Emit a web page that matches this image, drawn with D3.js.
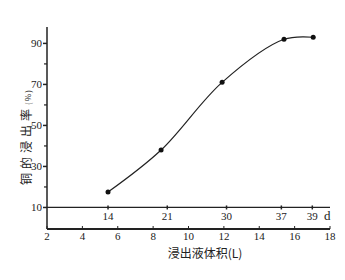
<!DOCTYPE html>
<html>
<head>
<meta charset="utf-8">
<script src="https://cdn.jsdelivr.net/npm/d3@7"></script>
<style>
  body { margin: 0; background: #fff; }
  svg text { fill: #222; }
  .num { font-family: "Liberation Serif", "DejaVu Serif", serif; font-size: 11px; }
  .cjk { font-family: "Noto Sans CJK SC", sans-serif; font-size: 12px; }
</style>
</head>
<body>
<svg id="chart" width="345" height="280"></svg>
<script>
// leaching volume (L) and copper leaching rate (%)
var volume = [5.45, 8.45, 11.9, 15.4, 17.05];
var rate = [17.5, 38, 71, 92, 93];

// day marks on the 10% line: day and cumulative volume at that day
var days = [14, 21, 30, 37, 39];
var dayVolume = [5.45, 8.8, 12.15, 15.25, 17.0];

var xTicks = [2, 4, 6, 8, 10, 12, 14, 16, 18];
var yTicks = [10, 30, 50, 70, 90];
var yMinor = [20, 40, 60, 80];

var svg = d3.select("#chart");

var x = d3.scaleLinear().domain([2, 18]).range([47, 330]);
var y = d3.scaleLinear().domain([-0.5, 98]).range([229, 27]);

var data = volume.map(function(v, i) { return {v: v, r: rate[i]}; });

// y axis
var gy = svg.append("g").attr("transform", "translate(" + x(2) + ",0)");
gy.append("line")
    .attr("y1", y(98)).attr("y2", y(-0.5))
    .attr("stroke", "#222").attr("stroke-width", 1.5);
gy.selectAll(".tk").data(yTicks).enter().append("line")
    .attr("x1", -4).attr("x2", 0)
    .attr("y1", function(d) { return y(d); })
    .attr("y2", function(d) { return y(d); })
    .attr("stroke", "#222").attr("stroke-width", 1.5);
gy.selectAll(".mn").data(yMinor).enter().append("line")
    .attr("x1", -3).attr("x2", 0)
    .attr("y1", function(d) { return y(d); })
    .attr("y2", function(d) { return y(d); })
    .attr("stroke", "#222").attr("stroke-width", 1.2);
gy.selectAll(".lb").data(yTicks).enter().append("text")
    .attr("class", "num")
    .attr("x", -5)
    .attr("y", function(d) { return y(d); })
    .attr("dy", "0.35em")
    .attr("text-anchor", "end")
    .text(function(d) { return d; });

// bottom axis (volume)
var gx = svg.append("g").attr("transform", "translate(0," + y(-0.5) + ")");
gx.append("line")
    .attr("x1", x(2)).attr("x2", x(18))
    .attr("stroke", "#222").attr("stroke-width", 2);
gx.selectAll(".tk").data(xTicks).enter().append("line")
    .attr("x1", function(d) { return x(d); })
    .attr("x2", function(d) { return x(d); })
    .attr("y1", 0).attr("y2", -3)
    .attr("stroke", "#222").attr("stroke-width", 1);
gx.selectAll(".lb").data(xTicks).enter().append("text")
    .attr("class", "num")
    .attr("x", function(d) { return x(d); })
    .attr("y", 11)
    .attr("text-anchor", "middle")
    .text(function(d) { return d; });

// day line at 10%
var gd = svg.append("g").attr("transform", "translate(0," + y(10) + ")");
gd.append("line")
    .attr("x1", x(2)).attr("x2", x(18))
    .attr("stroke", "#222").attr("stroke-width", 1.3);
gd.selectAll(".tk").data(dayVolume).enter().append("line")
    .attr("x1", function(d) { return x(d); })
    .attr("x2", function(d) { return x(d); })
    .attr("y1", -2).attr("y2", 2)
    .attr("stroke", "#222").attr("stroke-width", 1.5);
gd.selectAll(".lb").data(days).enter().append("text")
    .attr("class", "num")
    .attr("x", function(d, i) { return x(dayVolume[i]); })
    .attr("y", 13)
    .attr("text-anchor", "middle")
    .text(function(d) { return d; });
gd.append("text")
    .attr("class", "num")
    .attr("x", 324)
    .attr("y", 13)
    .style("font-size", "13px")
    .text("d");

// curve
var line = d3.line()
    .x(function(d) { return x(d.v); })
    .y(function(d) { return y(d.r); })
    .curve(d3.curveCatmullRom);

svg.append("path")
    .datum(data)
    .attr("fill", "none")
    .attr("stroke", "#222")
    .attr("stroke-width", 1.2)
    .attr("d", line);

svg.selectAll(".pt").data(data).enter().append("circle")
    .attr("cx", function(d) { return x(d.v); })
    .attr("cy", function(d) { return y(d.r); })
    .attr("r", 2.5)
    .attr("fill", "#111");

// axis titles
svg.append("text")
    .attr("class", "cjk")
    .attr("transform", "translate(31,137) rotate(-90)")
    .attr("text-anchor", "middle")
    .style("letter-spacing", "4px")
    .html('铜的浸出率<tspan style="font-size:8px;letter-spacing:1px">(%)</tspan>');

svg.append("text")
    .attr("class", "cjk")
    .attr("x", 205)
    .attr("y", 258)
    .attr("text-anchor", "middle")
    .text("浸出液体积(L)");
</script>
</body>
</html>
